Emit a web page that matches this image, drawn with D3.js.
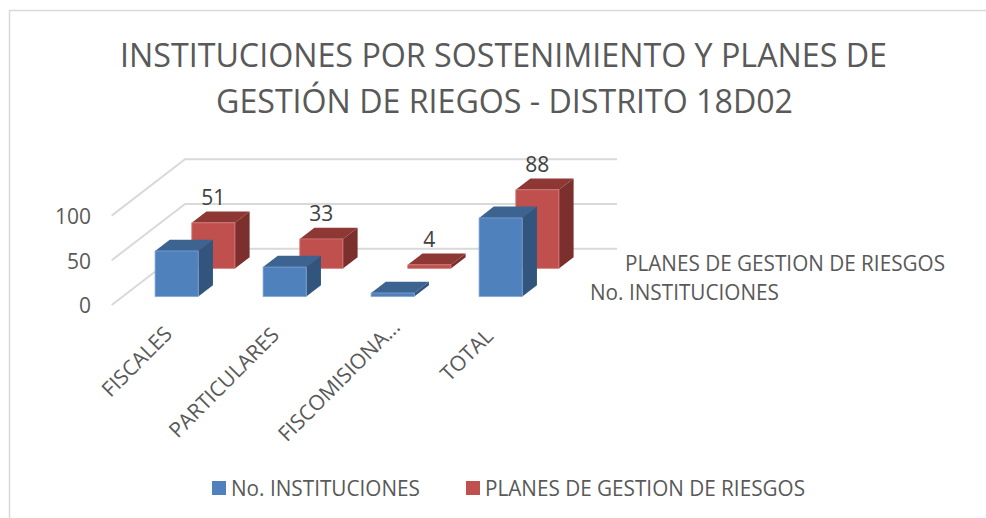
<!DOCTYPE html>
<html><head><meta charset="utf-8">
<script src="https://cdn.jsdelivr.net/npm/d3@7"></script>
<style>html,body{margin:0;background:#fff}svg{display:block}text{font-family:"Open Sans",sans-serif;fill:#595959}</style>
</head><body><svg id="c" width="986" height="518"></svg>
<script>
const titleLines = ["INSTITUCIONES POR SOSTENIMIENTO Y PLANES DE", "GESTIÓN DE RIEGOS - DISTRITO 18D02"];
const categories = ["FISCALES", "PARTICULARES", "FISCOMISIONA...", "TOTAL"];
const seriesNames = ["No. INSTITUCIONES", "PLANES DE GESTION DE RIESGOS"];
const instituciones = [51, 33, 4, 88];
const planes = [51, 33, 4, 88];
const valueTicks = [0, 50, 100];

const colors = {
  [seriesNames[0]]: {front:"#4f81bd", top:"#3d6391", side:"#32557e", edge:"#7fa3d1"},
  [seriesNames[1]]: {front:"#c0504d", top:"#8e3836", side:"#7b302e", edge:"#d67f7c"}
};
const svg = d3.select("#c");
const grid = "#d9d9d9";

// Frame
svg.append("path").attr("d","M9.5,518V10.5H986").attr("fill","none").attr("stroke",grid).attr("stroke-width",1.5);

// Title
const titleSpec = [{x:120,w:767,y:67},{x:216,w:577,y:113}];
svg.selectAll(".title").data(titleLines).join("text").attr("class","title")
  .attr("x",(d,i)=>titleSpec[i].x).attr("y",(d,i)=>titleSpec[i].y)
  .attr("font-size",33).attr("textLength",(d,i)=>titleSpec[i].w).attr("lengthAdjust","spacingAndGlyphs")
  .text(d=>d);

// Projection: u along categories, z into depth, value up
const origin = {x:111.7, y:305};
const depth = {x:73.3, y:-56.3};
const u = d3.scaleBand().domain(categories).range([0,432]).paddingInner(0.6).paddingOuter(0.3);
const z = d3.scaleBand().domain(seriesNames).range([0,1]).paddingInner(0.6).paddingOuter(0.3);
const v = d3.scaleLinear().domain([0,100]).range([0,89.4]);
const P = (uu,zz,val)=>[origin.x+uu+depth.x*zz, origin.y+depth.y*zz-v(val)];
const poly = pts => pts.map(p=>p.join(",")).join(" ");

// Grid
const gridG = svg.append("g").attr("fill","none").attr("stroke",grid).attr("stroke-width",2);
valueTicks.forEach(t=>{
  gridG.append("polyline").attr("points",poly([P(0,0,t),P(0,1,t),P(432,1,t)]));
});

// Value axis
const axisScale = d3.scaleLinear().domain([0,100]).range([origin.y+1,origin.y+1-v(100)]);
const axisG = svg.append("g").attr("transform","translate(97,0)")
  .call(d3.axisLeft(axisScale).tickValues(valueTicks).tickSize(0).tickPadding(6));
axisG.select(".domain").remove();
axisG.selectAll("text").attr("font-size",21).attr("font-family",'"Open Sans",sans-serif').attr("fill","#595959");

// Bars, back series first
const seriesData = [[seriesNames[1],planes],[seriesNames[0],instituciones]];
seriesData.forEach(([name,vals])=>{
  const c = colors[name];
  const z0 = z(name), z1 = z0+z.bandwidth();
  const g = svg.append("g");
  vals.forEach((val,i)=>{
    const u0 = u(categories[i]), u1 = u0+u.bandwidth();
    g.append("polygon").attr("points",poly([P(u0,z0,val),P(u1,z0,val),P(u1,z1,val),P(u0,z1,val)])).attr("fill",c.top);
    g.append("polygon").attr("points",poly([P(u1,z0,0),P(u1,z0,val),P(u1,z1,val),P(u1,z1,0)])).attr("fill",c.side);
    g.append("polygon").attr("points",poly([P(u0,z0,0),P(u1,z0,0),P(u1,z0,val),P(u0,z0,val)])).attr("fill",c.front)
      .attr("stroke",c.edge).attr("stroke-width",0.8);
  });
});

// Data labels above back series
const backName = seriesNames[1];
svg.selectAll(".dl").data(planes).join("text").attr("class","dl")
  .attr("x",(d,i)=>P(u(categories[i])+u.bandwidth()/2,z(backName),d)[0])
  .attr("y",(d,i)=>P(0,z(backName),d)[1]-18)
  .attr("text-anchor","middle").attr("font-size",21).style("fill","#404040")
  .text(d=>d);

// Category labels
const catAnchor = [[163,325],[270,326],[391,318],[484,327]];
svg.selectAll(".cat").data(categories).join("text").attr("class","cat")
  .attr("transform",(d,i)=>`translate(${catAnchor[i][0]},${catAnchor[i][1]}) rotate(-45)`)
  .attr("text-anchor","end").attr("dy","0.7em").attr("font-size",21)
  .text(d=>d);

// Depth axis labels
const depthLabels = [{x:590,y:300,w:189},{x:625,y:271,w:320}];
svg.selectAll(".dz").data(seriesNames).join("text").attr("class","dz")
  .attr("x",(d,i)=>depthLabels[i].x).attr("y",(d,i)=>depthLabels[i].y)
  .attr("font-size",21).attr("textLength",(d,i)=>depthLabels[i].w).attr("lengthAdjust","spacingAndGlyphs")
  .text(d=>d);

// Legend
const legendSpec = [{sx:212,tx:231,w:189},{sx:466,tx:485,w:320}];
const lg = svg.selectAll(".lg").data(seriesNames).join("g").attr("class","lg");
lg.append("rect").attr("x",(d,i)=>legendSpec[i].sx).attr("y",481).attr("width",14).attr("height",14).attr("fill",d=>colors[d].front);
lg.append("text").attr("x",(d,i)=>legendSpec[i].tx).attr("y",496)
  .attr("font-size",21).attr("textLength",(d,i)=>legendSpec[i].w).attr("lengthAdjust","spacingAndGlyphs").text(d=>d);
</script></body></html>
